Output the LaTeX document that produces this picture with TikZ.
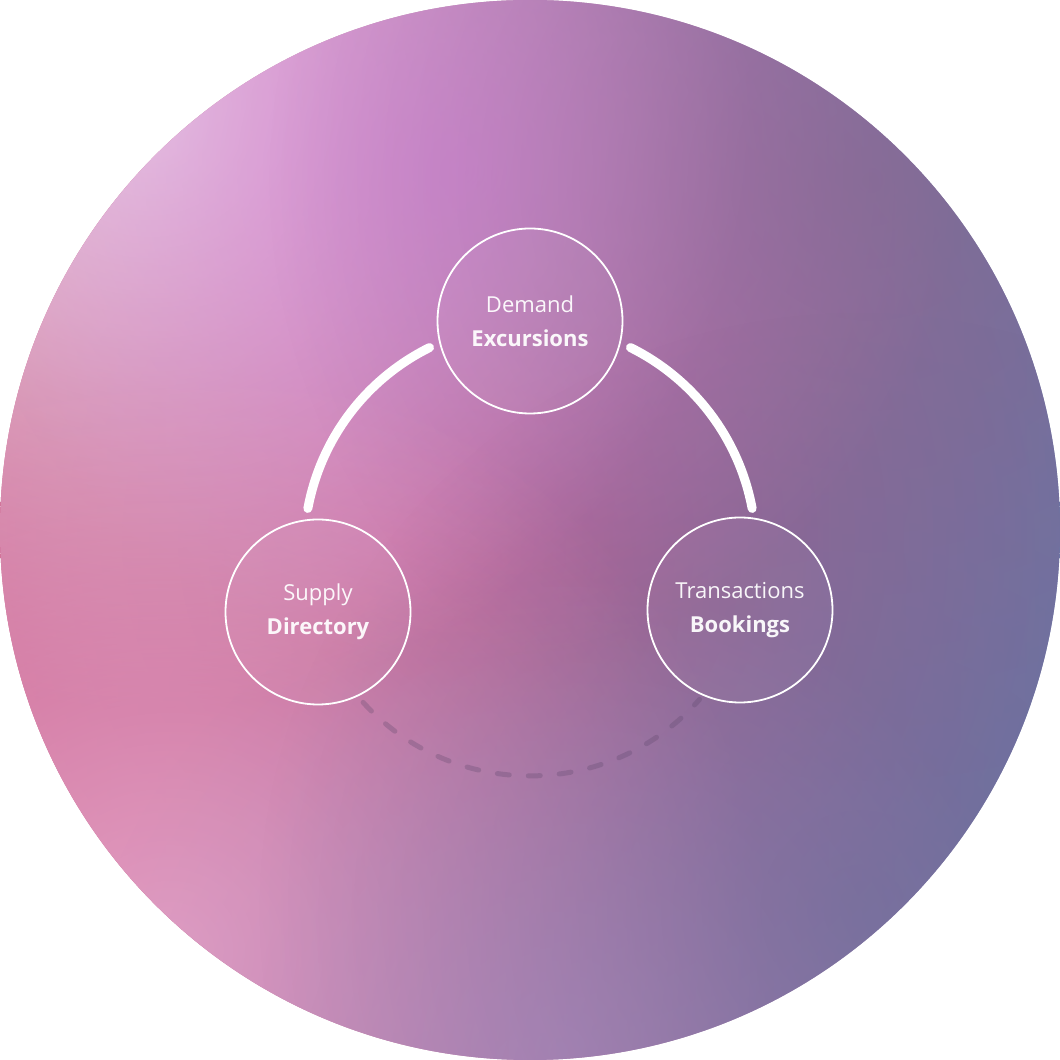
\documentclass[tikz,border=0pt]{standalone}
\usepackage{fontspec}
\setmainfont{Open Sans}
\usepackage{xcolor}
\usepackage{tikz}
\usetikzlibrary{fadings}

\definecolor{orbrose}{HTML}{D06890}
\definecolor{orbmid}{HTML}{B4609C}
\definecolor{orbblue}{HTML}{6878A8}
\definecolor{hazelilac}{HTML}{EEDCEC}
\definecolor{hazeorchid}{HTML}{D688D6}
\definecolor{hazemauve}{HTML}{84688F}
\definecolor{hazepink}{HTML}{E8A8CC}
\definecolor{hazeviolet}{HTML}{B890C4}
\definecolor{hazeslate}{HTML}{6C6C98}
\definecolor{hazemagenta}{HTML}{BE5A8C}
\definecolor{loopdash}{HTML}{5A4468}

\tikzfading[name=soft blob, inner color=transparent!0, outer color=transparent!100]

\begin{document}
\begin{tikzpicture}[x=1pt, y=1pt,
      stage/.style={circle, draw=white, line width=1.8pt, fill=white, fill opacity=0.04,
                    text opacity=0.94, text=white, minimum size=185pt, inner sep=0pt,
                    font=\fontsize{22}{34}\selectfont, align=center},
      link/.style={white, line width=9pt, line cap=round},
      backlink/.style={loopdash, draw opacity=0.28, line width=5pt, line cap=round,
                       dash pattern=on 12pt off 19pt}
  ]
    \useasboundingbox (0,0) rectangle (1060,1060);
    % background orb
    \begin{scope}
      \clip (530,530) circle[radius=530];
      \shade[left color=orbrose, middle color=orbmid, right color=orbblue]
        (0,0) rectangle (1060,1060);
      \foreach \bx/\by/\br/\bc/\bo in {
          80/440/300/orbrose/0.85, 990/520/260/orbblue/0.6,
          460/520/340/hazemagenta/0.85,
          150/950/300/hazelilac/0.95, 460/890/250/hazeorchid/0.9,
          870/880/300/hazemauve/0.65, 170/110/300/hazepink/0.85,
          560/10/240/hazeviolet/0.7, 860/150/300/hazeslate/0.6}
        \fill[\bc, fill opacity=\bo, path fading=soft blob] (\bx,\by) circle[radius=2*\br];
    \end{scope}

    \coordinate (hub) at (530,510);
    \node[stage] (demand) at (530,739) {Demand\\ \textbf{Excursions}};
    \node[stage] (supply) at (318,448) {Supply\\ \textbf{Directory}};
    \node[stage] (trans)  at (740,450) {Transactions\\ \textbf{Bookings}};

    % arc end points on the hub circle
    \coordinate (dl) at ([shift={(116.4:226)}]hub);
    \coordinate (sl) at ([shift={(169.4:226)}]hub);
    \coordinate (dr) at ([shift={(63.6:226)}]hub);
    \coordinate (tr) at ([shift={(10.6:226)}]hub);
    \coordinate (sb) at ([shift={(222.4:226)}]hub);
    \coordinate (tb) at ([shift={(318.6:226)}]hub);

    \draw[link] (dl) to[bend right=26.5, looseness=0.9] (sl);
    \draw[link] (dr) to[bend left=26.5, looseness=0.9] (tr);
    \draw[backlink] (sb) to[bend right=48.1, looseness=1.02] (tb);
  \end{tikzpicture}
\end{document}
